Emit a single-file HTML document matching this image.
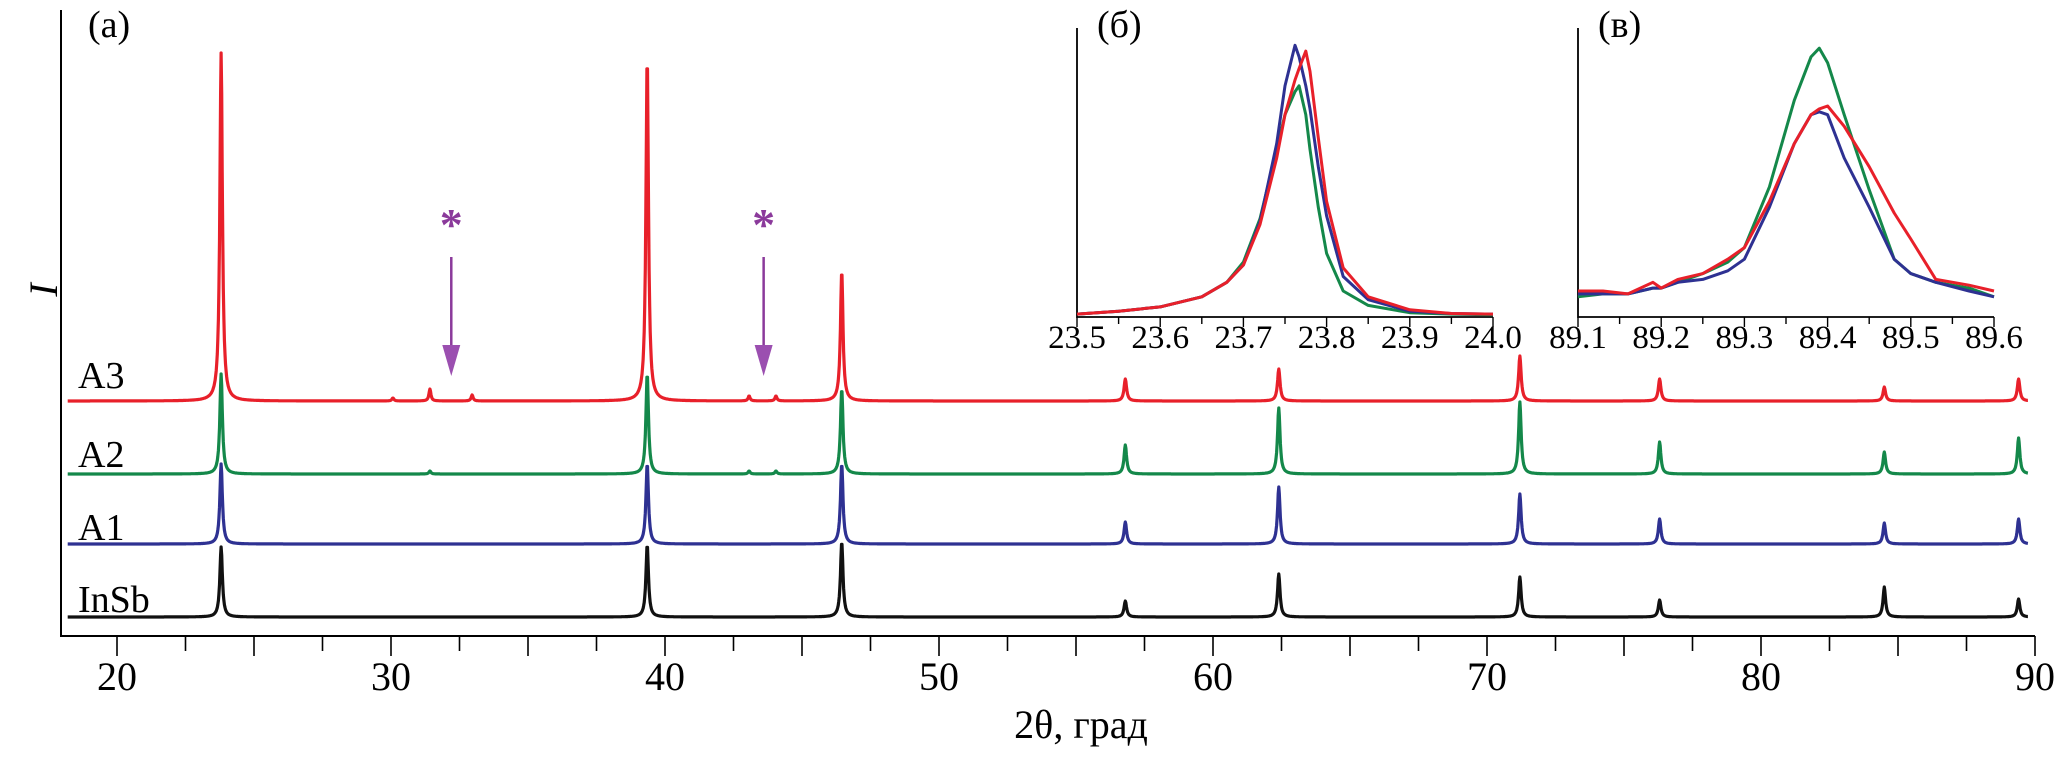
<!DOCTYPE html>
<html><head><meta charset="utf-8"><style>
html,body{margin:0;padding:0;background:#fff}
svg{display:block;font-family:"Liberation Serif",serif}
</style></head><body>
<svg id="chart" width="2067" height="780" viewBox="0 0 2067 780" xmlns="http://www.w3.org/2000/svg">
<g id="main"></g>
<g id="insetB"></g>
<g id="insetV"></g>
</svg>
<script>
// ---- main plot data ----
const peakPos = [23.8, 39.35, 46.45, 56.8, 62.4, 71.2, 76.3, 84.5, 89.4];
const ampRed = [348, 343, 130, 22, 32, 45, 22, 14, 22];
const ampGreen = [100, 100, 85, 29, 66, 72, 32, 22, 36];
const ampBlue = [80, 80, 80, 22, 57, 50, 25, 21, 25];
const ampBlack = [70, 72, 75, 16, 43, 40, 17, 30, 18];
const minorPosRed = [30.07, 31.42, 32.96, 43.07, 44.05];
const minorAmpRed = [3, 12, 6, 5, 5];
const minorPosGreen = [31.42, 43.07, 44.05];
const minorAmpGreen = [3, 3, 3];
const xTicks = [20, 30, 40, 50, 60, 70, 80, 90];
const starPos = [32.2, 43.6];

// ---- inset б data ----
const bX = [23.5,23.55,23.6,23.65,23.68,23.7,23.72,23.74,23.75,23.762,23.767,23.775,23.78,23.79,23.8,23.82,23.85,23.9,23.95,24.0];
const bRed   = [0.01,0.02,0.035,0.07,0.12,0.18,0.32,0.55,0.70,0.82,0.86,0.92,0.85,0.62,0.40,0.17,0.07,0.025,0.012,0.01];
const bBlue  = [0.01,0.02,0.035,0.07,0.12,0.18,0.33,0.60,0.80,0.94,0.90,0.80,0.72,0.52,0.35,0.14,0.06,0.02,0.012,0.01];
const bGreen = [0.01,0.02,0.035,0.07,0.12,0.19,0.34,0.58,0.70,0.78,0.80,0.70,0.58,0.38,0.22,0.09,0.04,0.015,0.01,0.008];
const bTicks = [23.5, 23.6, 23.7, 23.8, 23.9, 24.0];

// ---- inset в data ----
const vX = [89.1,89.13,89.16,89.19,89.2,89.22,89.25,89.28,89.3,89.33,89.36,89.38,89.39,89.4,89.42,89.45,89.48,89.5,89.53,89.57,89.6];
const vRed   = [0.09,0.09,0.08,0.12,0.10,0.13,0.15,0.20,0.24,0.40,0.60,0.70,0.72,0.73,0.66,0.52,0.36,0.27,0.13,0.11,0.09];
const vBlue  = [0.08,0.08,0.08,0.10,0.10,0.12,0.13,0.16,0.20,0.38,0.60,0.70,0.71,0.70,0.55,0.38,0.20,0.15,0.12,0.09,0.07];
const vGreen = [0.07,0.08,0.08,0.10,0.10,0.12,0.15,0.19,0.24,0.45,0.75,0.90,0.93,0.88,0.70,0.44,0.20,0.15,0.12,0.10,0.07];
const vTicks = [89.1, 89.2, 89.3, 89.4, 89.5, 89.6];

const NS = "http://www.w3.org/2000/svg";
function mk(parent, tag, attrs, text){
  const e = document.createElementNS(NS, tag);
  for (const k in attrs) e.setAttribute(k, attrs[k]);
  if (text !== undefined) e.textContent = text;
  parent.appendChild(e);
  return e;
}

// main axes
const X0 = 117, PX = 27.4, AXL = 61, AXB = 636, AXR = X0 + 70*PX;
const xs = d => X0 + (d - 20) * PX;
const main = document.getElementById('main');

function profile(base, pos, amp, mpos, mamp){
  let pts = [];
  for (let d = 18.2; d <= 89.75; d += 0.02){
    let y = 0;
    for (let i = 0; i < pos.length; i++){
      const g = 0.07, t = (d - pos[i]) / g;
      y += amp[i] / (1 + t*t*1.6);
    }
    for (let i = 0; i < mpos.length; i++){
      const t = (d - mpos[i]) / 0.06;
      y += mamp[i] / (1 + t*t*2);
    }
    pts.push(xs(d).toFixed(1) + ',' + (base - y).toFixed(1));
  }
  return pts.join(' ');
}
const series = [
  {name:'series-insb', base:617, amp:ampBlack, col:'#111', mp:[], ma:[]},
  {name:'series-a1', base:544, amp:ampBlue, col:'#2e3192', mp:[], ma:[]},
  {name:'series-a2', base:474, amp:ampGreen, col:'#14884a', mp:minorPosGreen, ma:minorAmpGreen},
  {name:'series-a3', base:401, amp:ampRed, col:'#e8202a', mp:minorPosRed, ma:minorAmpRed}
];
series.forEach(s => {
  const p = mk(main, 'polyline', {points: profile(s.base, peakPos, s.amp, s.mp, s.ma), fill:'none', stroke:s.col, 'stroke-width':3.2, 'stroke-linejoin':'round'});
  
  
});

// axes lines
let a = mk(main, 'path', {d:`M${AXL},10 V${AXB} H${AXR}`, fill:'none', stroke:'#000', 'stroke-width':2});


for (let d = 20; d <= 90.01; d += 2.5){
  const major = Math.abs(d/5 - Math.round(d/5)) < 1e-6;
  const t = mk(main, 'line', {x1:xs(d), x2:xs(d), y1:AXB, y2:AXB + (major?20:15), stroke:'#000', 'stroke-width':1.6});
  
  
}
xTicks.forEach(v => {
  const t = mk(main, 'text', {x:xs(v), y:690, 'text-anchor':'middle', 'font-size':40}, String(v));
  
  
});
let tt = mk(main, 'text', {x:1081, y:738, 'text-anchor':'middle', 'font-size':40}, '2θ, град');


tt = mk(main, 'text', {x:44, y:303, 'text-anchor':'middle', 'font-size':40, 'font-style':'italic', transform:'rotate(-90 44 290)'}, 'I');


tt = mk(main, 'text', {x:88, y:37, 'font-size':38}, '(a)');


[['A3',388],['A2',467],['A1',540],['InSb',612]].forEach(l => {
  const e = mk(main, 'text', {x:78, y:l[1], 'font-size':38}, l[0]);
  
  
});
starPos.forEach(d => {
  const x = xs(d);
  const s = mk(main, 'text', {x:x, y:240, 'text-anchor':'middle', 'font-size':46, fill:'#8b3a9b', 'font-weight':'bold'}, '*');
  
  
  const l = mk(main, 'line', {x1:x, x2:x, y1:257, y2:350, stroke:'#8b3a9b', 'stroke-width':2.5});
  
  
  const h = mk(main, 'polygon', {points:`${x-9},345 ${x+9},345 ${x},376`, fill:'#9b4fb0'});
  
  
});

// insets
function inset(gid, L, R, xmin, xmax, xArr, ser, ticks, label){
  const g = document.getElementById(gid);
  const T = 28, B = 317;
  const sx = v => L + (v - xmin) / (xmax - xmin) * (R - L);
  const sy = v => B - v * (B - T);
  const ax = mk(g, 'path', {d:`M${L},${T} V${B} H${R}`, fill:'none', stroke:'#000', 'stroke-width':1.8});
  
  
  for (let i = 0; i <= 10; i++){
    const v = xmin + i * (xmax - xmin) / 10;
    const t = mk(g, 'line', {x1:sx(v), x2:sx(v), y1:B, y2:B + (i%2===0?10:7), stroke:'#000', 'stroke-width':1.4});
    
    
  }
  ticks.forEach(v => {
    const t = mk(g, 'text', {x:sx(v), y:348, 'text-anchor':'middle', 'font-size':33}, v.toFixed(1));
    
    
  });
  ser.forEach(s => {
    const pts = xArr.map((x, i) => sx(x).toFixed(1) + ',' + sy(s.y[i]).toFixed(1)).join(' ');
    const p = mk(g, 'polyline', {points:pts, fill:'none', stroke:s.c, 'stroke-width':3, 'stroke-linejoin':'round'});
    
    
  });
  const lb = mk(g, 'text', {x:L + 20, y:37, 'font-size':38}, label);
  
  
}
inset('insetB', 1077, 1493, 23.5, 24.0, bX,
  [{n:'inset-b-green', y:bGreen, c:'#14884a'}, {n:'inset-b-blue', y:bBlue, c:'#2e3192'}, {n:'inset-b-red', y:bRed, c:'#e8202a'}], bTicks, '(б)');
inset('insetV', 1578, 1994, 89.1, 89.6, vX,
  [{n:'inset-v-green', y:vGreen, c:'#14884a'}, {n:'inset-v-blue', y:vBlue, c:'#2e3192'}, {n:'inset-v-red', y:vRed, c:'#e8202a'}], vTicks, '(в)');
</script>
</body></html>
